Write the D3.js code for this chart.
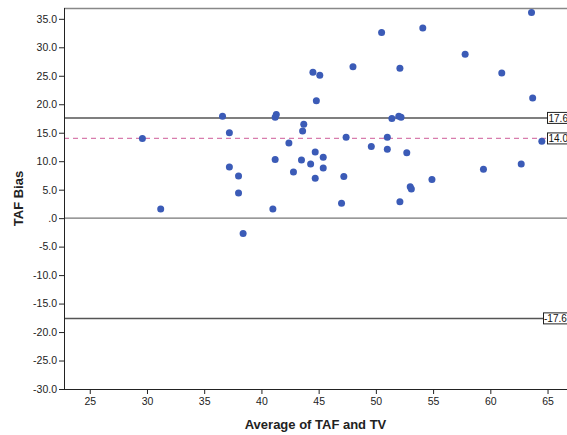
<!DOCTYPE html>
<html>
<head>
<meta charset="utf-8">
<script src="https://cdn.jsdelivr.net/npm/d3@7"></script>
<style>
  body { margin: 0; background: #fff; }
  svg { display: block; font-family: "Liberation Sans", Arial, sans-serif; }
</style>
</head>
<body>
<svg width="567" height="435"></svg>
<script>
var svg = d3.select("svg"),
  width = +svg.attr("width"),
  height = +svg.attr("height");

// Average of TAF and TV (x) vs TAF bias (y)
var avgVals = [29.6, 31.2, 36.6, 37.2, 37.2, 38.0, 38.0, 38.4, 41.0, 41.2, 41.2, 41.3,
  42.4, 42.8, 43.5, 43.6, 43.7, 44.5, 44.3, 44.7, 44.7, 44.8, 45.1, 45.4, 45.4,
  47.0, 47.2, 47.4, 48.0, 49.6, 50.5, 51.0, 51.0, 51.4, 52.1, 52.0, 52.2, 52.1,
  52.7, 53.0, 53.1, 54.1, 54.9, 57.8, 59.4, 61.0, 62.7, 63.6, 63.7, 64.5];
var biasVals = [14.0, 1.6, 17.9, 15.0, 9.0, 7.4, 4.4, -2.7, 1.6, 10.3, 17.7, 18.2,
  13.2, 8.1, 10.2, 15.3, 16.5, 25.6, 9.5, 11.6, 7.0, 20.6, 25.1, 10.7, 8.8,
  2.6, 7.3, 14.2, 26.6, 12.6, 32.6, 14.2, 12.1, 17.5, 2.9, 17.9, 17.7, 26.3,
  11.5, 5.5, 5.1, 33.4, 6.8, 28.8, 8.6, 25.5, 9.5, 36.1, 21.1, 13.5];

var meanBias = 14.0;
var limits = [17.6, -17.6];

var xTicks = [25, 30, 35, 40, 45, 50, 55, 60, 65];
var yTicks = [35, 30, 25, 20, 15, 10, 5, 0, -5, -10, -15, -20, -25, -30];
var yTickLabels = ["35.0", "30.0", "25.0", "20.0", "15.0", "10.0", "5.0", ".0",
  "-5.0", "-10.0", "-15.0", "-20.0", "-25.0", "-30.0"];

var pLeft = 64, pRight = 567, pTop = 8, pBottom = 389;

var x = d3.scaleLinear().domain([22.75, 66.7]).range([pLeft, pRight]);
var y = d3.scaleLinear().domain([-30, 36.9]).range([pBottom, pTop]);

// frame line at top
svg.append("line")
  .attr("x1", pLeft).attr("x2", pRight)
  .attr("y1", pTop + 0.5).attr("y2", pTop + 0.5)
  .attr("stroke", "#888").attr("stroke-width", 1.5);

// zero line
svg.append("line")
  .attr("x1", pLeft).attr("x2", pRight)
  .attr("y1", y(0)).attr("y2", y(0))
  .attr("stroke", "#777").attr("stroke-width", 1.2);

// limits of agreement
var labelX = 547;
svg.selectAll(".limit")
  .data(limits)
  .enter().append("line")
  .attr("class", "limit")
  .attr("x1", pLeft).attr("x2", labelX)
  .attr("y1", function(d) { return y(d); })
  .attr("y2", function(d) { return y(d); })
  .attr("stroke", "#555").attr("stroke-width", 1.5);

// mean bias
svg.append("line")
  .attr("x1", pLeft).attr("x2", labelX)
  .attr("y1", y(meanBias)).attr("y2", y(meanBias))
  .attr("stroke", "#d87cad").attr("stroke-width", 1.3)
  .attr("stroke-dasharray", "5,4");

// points
svg.append("g")
  .selectAll("circle")
  .data(avgVals)
  .enter().append("circle")
  .attr("cx", function(d) { return x(d); })
  .attr("cy", function(d, i) { return y(biasVals[i]); })
  .attr("r", 3.5)
  .attr("fill", "#3b5bb7");

// line labels
var lineLabels = [limits[0], meanBias, limits[1]];
var lab = svg.append("g").selectAll("g")
  .data(lineLabels)
  .enter().append("g")
  .attr("transform", function(d) { return "translate(" + labelX + "," + y(d) + ")"; });
lab.append("rect")
  .attr("x", function(d) { return d < 0 ? -3.5 : 0.5; })
  .attr("y", -5.5)
  .attr("width", 30).attr("height", 11)
  .attr("fill", "#fff").attr("stroke", "#222").attr("stroke-width", 1);
lab.append("text")
  .attr("x", function(d) { return d < 0 ? -3 : 1.5; })
  .attr("y", 3.8)
  .attr("font-size", 10)
  .attr("fill", "#111")
  .text(function(d) { return d.toFixed(1); });

// y axis
var yAxis = svg.append("g")
  .attr("transform", "translate(" + pLeft + ",0)")
  .call(d3.axisLeft(y)
    .tickValues(yTicks)
    .tickSize(5)
    .tickPadding(2)
    .tickFormat(function(d, i) { return yTickLabels[i]; }));
yAxis.select(".domain").attr("d", "M0.5," + pTop + "V" + (pBottom + 0.5)).attr("stroke", "#222");
yAxis.selectAll("line").attr("stroke", "#222");
yAxis.selectAll("text").attr("font-size", 10.5).attr("fill", "#222")
  .attr("font-family", "Liberation Sans, Arial, sans-serif");

// x axis
var xAxis = svg.append("g")
  .attr("transform", "translate(0," + pBottom + ")")
  .call(d3.axisBottom(x)
    .tickValues(xTicks)
    .tickSize(5)
    .tickPadding(4)
    .tickFormat(d3.format("d")));
xAxis.select(".domain").attr("d", "M" + pLeft + ",0.5H" + pRight).attr("stroke", "#222");
xAxis.selectAll("line").attr("stroke", "#222");
xAxis.selectAll("text").attr("font-size", 10.5).attr("fill", "#222")
  .attr("font-family", "Liberation Sans, Arial, sans-serif");

// axis titles
svg.append("text")
  .attr("x", (pLeft + pRight) / 2)
  .attr("y", 429)
  .attr("text-anchor", "middle")
  .attr("font-weight", "bold")
  .attr("font-size", 13)
  .attr("fill", "#222")
  .text("Average of TAF and TV");

svg.append("text")
  .attr("transform", "translate(23," + (pTop + pBottom) / 2 + ") rotate(-90)")
  .attr("text-anchor", "middle")
  .attr("font-weight", "bold")
  .attr("font-size", 13)
  .attr("fill", "#222")
  .text("TAF Bias");
</script>
</body>
</html>
